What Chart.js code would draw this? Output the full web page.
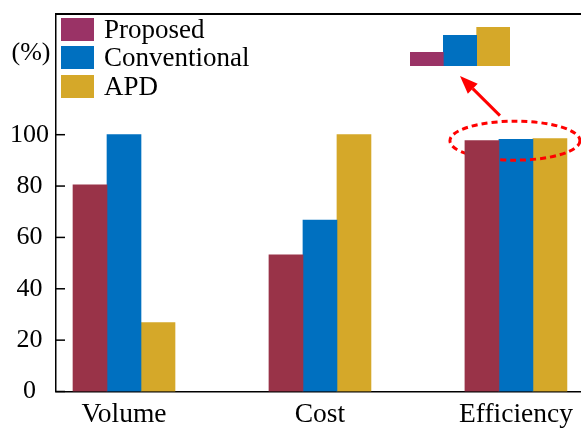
<!DOCTYPE html>
<html>
<head>
<meta charset="utf-8">
<script src="https://cdn.jsdelivr.net/npm/chart.js@4.4.0/dist/chart.umd.min.js"></script>
<style>
  html, body { margin: 0; padding: 0; background: #fff; }
  #wrap { position: relative; width: 581px; height: 428px; overflow: hidden; }
  #main { position: absolute; left: 0; top: 0; }
  #inset { position: absolute; left: 410px; top: 27px; }
  #legend { position: absolute; left: 61px; top: 18px; font: 27px 'Liberation Serif', serif; color: #000; }
  .leg-row { position: absolute; left: 0; display: flex; align-items: center; height: 23px; white-space: nowrap; }
  .leg-box { width: 33px; height: 23px; margin-right: 10px; }
</style>
</head>
<body>
<div id="wrap">
  <canvas id="main" width="581" height="428"></canvas>
  <canvas id="inset" width="100" height="39"></canvas>
  <div id="legend"></div>
</div>
<script>
const categories = ['Volume', 'Cost', 'Efficiency'];
const seriesNames = ['Proposed', 'Conventional', 'APD'];
const proposed = [80.5, 53.2, 97.7];
const conventional = [100, 66.8, 98.2];
const apd = [26.8, 100, 98.45];
const yTicks = [0, 20, 40, 60, 80, 100];
const series = [proposed, conventional, apd];

const barColors = ['#993348', '#0070c0', '#d5a829'];
const keyColors = ['#9a3366', '#0070c0', '#d5a829'];
const fontFamily = "'Liberation Serif', serif";
const tickFont = { family: fontFamily, size: 26 };
const catFont = { family: fontFamily, size: 27.5 };

Chart.defaults.font.family = fontFamily;
Chart.defaults.color = '#000';

const $ = id => document.getElementById(id);

// legend, top-left inside the axes
const rowTops = [0, 28, 57];
$('legend').innerHTML = seriesNames.map((name, i) => `
  <div class="leg-row" style="top:${rowTops[i]}px">
    <span class="leg-box" style="background:${keyColors[i]}"></span><span>${name}</span>
  </div>`).join('');

// ellipse drawn between Conventional and APD, like the original
const ellipsePlugin = {
  id: 'ellipse',
  afterDatasetDraw(chart, args) {
    if (args.index !== 1) return;
    const { ctx, scales: { x, y } } = chart;
    const cx = x.getPixelForValue(2) - 1;
    const cy = y.getPixelForValue(Math.max(...series.map(s => s[2]))) + 2;
    ctx.save();
    ctx.strokeStyle = '#ff0000';
    ctx.lineWidth = 3;
    ctx.setLineDash([6, 4]);
    ctx.beginPath();
    ctx.ellipse(cx, cy, 65, 19.5, 0, 0, Math.PI * 2);
    ctx.stroke();
    ctx.restore();
  }
};

const framePlugin = {
  id: 'frame',
  afterDraw(chart) {
    const { ctx, chartArea: a, scales: { x, y } } = chart;
    ctx.save();
    ctx.strokeStyle = '#000';
    ctx.lineWidth = 2;
    ctx.beginPath();
    ctx.moveTo(a.left - 0.75, a.top);
    ctx.lineTo(a.right, a.top);
    ctx.stroke();

    ctx.lineWidth = 1.5;
    y.ticks.forEach(t => {
      const py = y.getPixelForValue(t.value);
      ctx.beginPath();
      ctx.moveTo(a.left, py);
      ctx.lineTo(a.left + 9, py);
      ctx.stroke();
    });

    ctx.fillStyle = '#000';
    ctx.font = `${tickFont.size}px ${fontFamily}`;
    ctx.textAlign = 'center';
    ctx.textBaseline = 'middle';
    ctx.fillText('(%)', 31, 53);

    // arrow from the ellipse to the inset
    const ins = $('inset');
    const tx = ins.offsetLeft + ins.offsetWidth / 2;
    const ty = ins.offsetTop + ins.offsetHeight + 10;
    const sx = x.getPixelForValue(2) - 16;
    const sy = y.getPixelForValue(Math.max(...series.map(s => s[2]))) - 23;
    const ang = Math.atan2(ty - sy, tx - sx);
    const len = 18, half = 7;
    const bx = tx - Math.cos(ang) * len, by = ty - Math.sin(ang) * len;
    ctx.strokeStyle = '#ff0000';
    ctx.fillStyle = '#ff0000';
    ctx.lineWidth = 3;
    ctx.beginPath();
    ctx.moveTo(sx, sy);
    ctx.lineTo(bx, by);
    ctx.stroke();
    ctx.beginPath();
    ctx.moveTo(tx, ty);
    ctx.lineTo(bx + Math.sin(ang) * half, by - Math.cos(ang) * half);
    ctx.lineTo(bx - Math.sin(ang) * half, by + Math.cos(ang) * half);
    ctx.closePath();
    ctx.fill();
    ctx.restore();
  }
};

const mainChart = new Chart($('main'), {
  type: 'bar',
  data: {
    datasets: seriesNames.map((name, i) => ({
      label: name,
      data: series[i].map((v, j) => ({ x: j, y: v })),
      backgroundColor: barColors[i],
      borderWidth: 0,
      barThickness: 34
    }))
  },
  options: {
    responsive: false, animation: false,
    layout: { padding: { top: 14, right: 0, left: 0, bottom: 0 } },
    plugins: { legend: { display: false }, tooltip: { enabled: false } },
    scales: {
      x: {
        type: 'linear', min: -0.347, max: 2.332, bounds: 'data', offset: false,
        grid: { display: false, drawTicks: false, offset: false },
        border: { display: true, color: '#000', width: 1.5 },
        afterBuildTicks: s => { s.ticks = categories.map((_, i) => ({ value: i })); },
        afterFit: s => { s.height = 36.5; s.paddingLeft = 0; s.paddingRight = 0; },
        ticks: { font: catFont, padding: 7, maxRotation: 0, autoSkip: false, callback: v => categories[v] }
      },
      y: {
        min: 0, max: 147,
        grid: { display: false, drawTicks: false },
        border: { display: true, color: '#000', width: 1.5 },
        afterBuildTicks: s => { s.ticks = yTicks.map(v => ({ value: v })); },
        afterFit: s => { s.width = 56; s.paddingTop = 0; s.paddingBottom = 0; },
        ticks: { font: tickFont, padding: 7, crossAlign: 'center' }
      }
    }
  },
  plugins: [ellipsePlugin, framePlugin]
});

// zoomed inset of the Efficiency group
const insetChart = new Chart($('inset'), {
  type: 'bar',
  data: {
    labels: [categories[2]],
    datasets: seriesNames.map((name, i) => ({
      label: name,
      data: [series[i][2]],
      backgroundColor: keyColors[i],
      borderWidth: 0,
      categoryPercentage: 1,
      barPercentage: 1
    }))
  },
  options: {
    responsive: false, animation: false,
    layout: { padding: 0 },
    plugins: { legend: { display: false }, tooltip: { enabled: false } },
    scales: { x: { display: false }, y: { display: false, min: 97.29, max: 98.45 } }
  }
});
</script>
</body>
</html>
